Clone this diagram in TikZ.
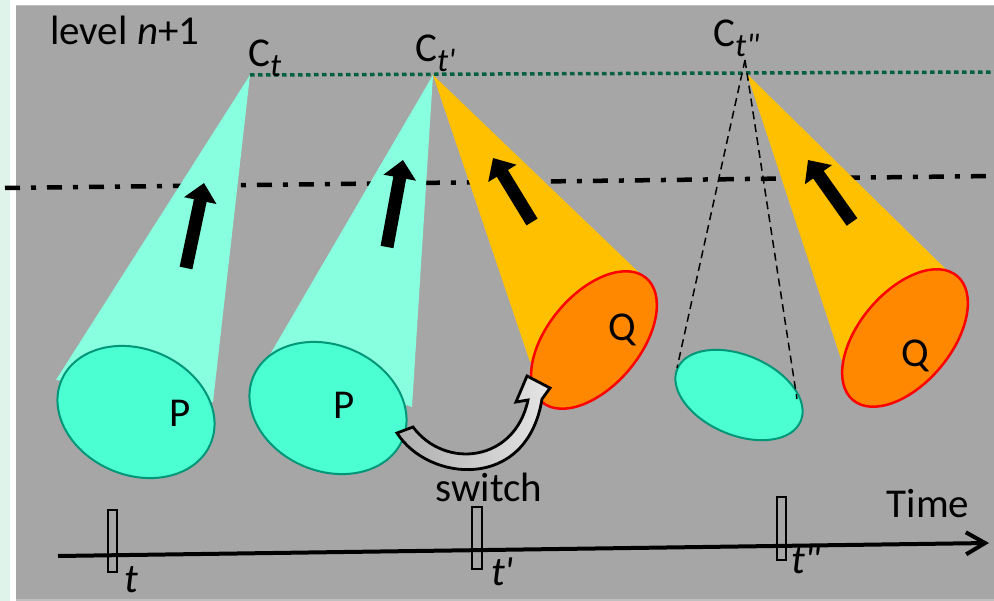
\documentclass[tikz,border=0pt]{standalone}
\usepackage{fontspec}
\setmainfont{Carlito}
\usetikzlibrary{arrows.meta}
\definecolor{bggray}{RGB}{166,166,166}
\definecolor{mint}{RGB}{224,243,235}
\definecolor{conecyan}{RGB}{136,255,222}
\definecolor{ellcyan}{RGB}{75,255,210}
\definecolor{tealline}{RGB}{0,150,120}
\definecolor{coneorange}{RGB}{255,192,0}
\definecolor{ellorange}{RGB}{255,136,0}
\definecolor{dotgreen}{RGB}{0,96,64}
\newcommand\lowsub[1]{\raisebox{-0.22em}{\fontsize{33}{33}\selectfont\itshape #1}}
\begin{document}
\begin{tikzpicture}[x=1pt,y=1pt,
  lbl/.style={inner sep=0pt,font=\fontsize{41}{45}\selectfont},
  cyancone/.style={fill=conecyan,draw=none},
  orangecone/.style={fill=coneorange,draw=none},
  pell/.style={fill=ellcyan,draw=tealline,line width=2pt},
  qell/.style={fill=ellorange,draw=red,line width=2.5pt},
  bigarrow/.style={line width=13pt,-{Triangle[width=32pt,length=18pt]}},
  tickbox/.style={draw=black,line width=1.5pt},
  ghost/.style={draw=black,line width=1.5pt,dash pattern=on 8pt off 5pt}]
\useasboundingbox (0,0) rectangle (994,-601);
% background
\fill[mint] (0,0) rectangle (994,-601);
\fill[white] (10,0) rectangle (994,-601);
\fill[black!25] (16,-5) rectangle (994,-601);
\fill[bggray] (16,-6) rectangle (994,-599);
% level lines
\coordinate (dd1) at (5,-188);
\coordinate (dd2) at (994,-176);
\draw[line width=4.5pt,dash pattern=on 15pt off 11pt on 5pt off 11pt] (dd1) -- (dd2);
\coordinate (ct) at (250,-75);
\coordinate (ctp) at (433,-75);
\coordinate (ctpp) at (747,-74);
\coordinate (dotend) at (994,-72);
\draw[dotgreen,line width=3.5pt,dash pattern=on 4.5pt off 3.5pt] (ct) -- (dotend);
% cone 1 (P at t)
\fill[cyancone] (ct) -- (56,-380) -- (213,-402) -- cycle;
\draw[pell, rotate around={-23:(136,-412)}] (136,-412) ellipse [x radius=81, y radius=63];
% cone 2 (P at t')
\fill[cyancone] (ctp) -- (268,-358) -- (412,-407) -- cycle;
\draw[pell, rotate around={-23:(328,-408)}] (328,-408) ellipse [x radius=81, y radius=63];
% cone 3 (Q at t')
\fill[orangecone] (ctp) -- (530,-362) -- (653,-286) -- cycle;
\draw[qell, rotate around={50:(594,-340)}] (594,-340) ellipse [x radius=81, y radius=46];
% cone 4 (Q at t'')
\fill[orangecone] (ctpp) -- (844,-368) -- (966,-289) -- cycle;
\draw[qell, rotate around={50:(905,-338)}] (905,-338) ellipse [x radius=81, y radius=46];
% ghost cone (P at t'')
\coordinate (gapex) at (745,-60);
\coordinate (gl) at (677,-368);
\coordinate (gr) at (797,-399);
\draw[pell, rotate around={-23:(739,-395)}] (739,-395) ellipse [x radius=67, y radius=40];
\draw[ghost] (gapex) -- (gl);
\draw[ghost] (gapex) -- (gr);
% black arrows
\coordinate (a1s) at (186,-268); \coordinate (a1e) at (204,-183);
\coordinate (a2s) at (387,-247); \coordinate (a2e) at (403,-160);
\coordinate (a3s) at (532,-222); \coordinate (a3e) at (493,-158);
\coordinate (a4s) at (852,-222); \coordinate (a4e) at (808,-160);
\draw[bigarrow] (a1s) -- (a1e);
\draw[bigarrow] (a2s) -- (a2e);
\draw[bigarrow] (a3s) -- (a3e);
\draw[bigarrow] (a4s) -- (a4e);
% switch arrow
\draw[line width=2.8pt,line join=miter,left color=black!32,right color=black!10]
  (397,-433) .. controls (428,-482) and (527,-492) .. (542,-399)
  -- (550,-388) -- (527,-376) -- (516,-402) -- (528,-400)
  .. controls (515,-462) and (445,-470) .. (413,-427) -- cycle;
% labels
\node[lbl,anchor=base west] (lvl) at (50,-45) {level \textit{n}+1};
\node[lbl,anchor=base west] (lct) at (248,-67) {C\lowsub{t}};
\node[lbl,anchor=base west] (lctp) at (415,-62) {C\lowsub{t\textquotesingle}};
\node[lbl,anchor=base west] (lctpp) at (713,-47) {C\lowsub{t\textquotedbl}};
\node[lbl] (p1) at (180,-413) {P};
\node[lbl] (p2) at (344,-405) {P};
\node[lbl] (q1) at (622,-330) {Q};
\node[lbl] (q2) at (915,-356) {Q};
\node[lbl,anchor=base] (sw) at (489,-502) {switch};
\node[lbl,anchor=base] (time) at (928,-518) {Time};
% time axis
\coordinate (ax1) at (58,-556);
\coordinate (ax2) at (989,-543);
\draw[line width=4pt,-{Straight Barb[length=19pt,width=22pt]}] (ax1) -- (ax2);
\draw[tickbox] (108,-510) rectangle (117,-572);
\draw[tickbox] (472,-507) rectangle (482,-569);
\draw[tickbox] (777,-497) rectangle (786,-560);
\node[lbl,anchor=base west] (tt1) at (124,-592) {\itshape t};
\node[lbl,anchor=base west] (tt2) at (491,-585) {\itshape t\textquotesingle};
\node[lbl,anchor=base west] (tt3) at (791,-573) {\itshape t\textquotedbl};
\end{tikzpicture}
\end{document}
